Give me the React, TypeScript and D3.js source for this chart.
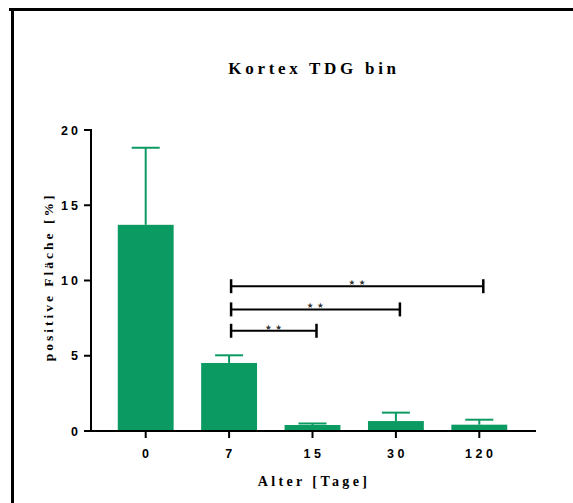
import React from "react";
import * as d3 from "d3";

const categories = ["0", "7", "15", "30", "120"];
const means = [13.7, 4.52, 0.4, 0.66, 0.42];
const sems = [5.12, 0.51, 0.1, 0.56, 0.33];
const yTicks = [0, 5, 10, 15, 20];
const comparisons = [
  { from: "7", to: "120", level: 9.62, label: "★★" },
  { from: "7", to: "30", level: 8.08, label: "★★" },
  { from: "7", to: "15", level: 6.66, label: "★★" },
];

const W = 573;
const H = 503;
const GREEN = "#0c9a63";
const SANS = "'Liberation Sans', Arial, sans-serif";
const SERIF = "'Liberation Serif', 'Times New Roman', serif";

export default function App() {
  const x = d3
    .scaleBand<string>()
    .domain(categories)
    .range([104, 521])
    .paddingInner(0.33)
    .paddingOuter(0.165);
  const y = d3.scaleLinear().domain([0, 20]).range([431, 130]);
  const axisX = 91;
  const axisRight = 536;
  const bw = x.bandwidth();
  const cx = (c: string) => (x(c) as number) + bw / 2;

  return (
    <svg
      width={W}
      height={H}
      style={{ position: "absolute", left: 0, top: 0, background: "#fff" }}
    >
      {/* frame */}
      <line x1={9} x2={W + 5} y1={9.5} y2={9.5} stroke="#000" strokeWidth={3} />
      <line x1={12.5} x2={12.5} y1={8} y2={H + 5} stroke="#000" strokeWidth={3} />

      {/* title */}
      <text
        x={314}
        y={73.5}
        textAnchor="middle"
        fontFamily={SERIF}
        fontWeight="bold"
        fontSize={17}
        letterSpacing={3.7}
      >
        Kortex TDG bin
      </text>

      {/* bars */}
      {categories.map((c, i) => (
        <rect
          key={c}
          x={x(c)}
          y={y(means[i])}
          width={bw}
          height={y(0) - y(means[i])}
          fill={GREEN}
        />
      ))}
      {/* error bars */}
      {categories.map((c, i) => (
        <g key={"e" + c} stroke={GREEN} strokeWidth={2}>
          <line x1={cx(c)} x2={cx(c)} y1={y(means[i])} y2={y(means[i] + sems[i])} />
          <line
            x1={cx(c) - 14}
            x2={cx(c) + 14}
            y1={y(means[i] + sems[i])}
            y2={y(means[i] + sems[i])}
          />
        </g>
      ))}

      {/* y axis */}
      <line x1={axisX} x2={axisX} y1={y(20) - 1} y2={y(0) + 1} stroke="#000" strokeWidth={2} />
      {yTicks.map((t) => (
        <g key={t}>
          <line x1={axisX - 7} x2={axisX} y1={y(t)} y2={y(t)} stroke="#000" strokeWidth={2} />
          <text
            x={axisX - 10}
            y={y(t) + 4.5}
            textAnchor="end"
            fontFamily={SANS}
            fontWeight="bold"
            fontSize={12.5}
            letterSpacing={3}
          >
            {t}
          </text>
        </g>
      ))}
      <text
        transform={`translate(53,277) rotate(-90)`}
        textAnchor="middle"
        fontFamily={SERIF}
        fontWeight="bold"
        fontSize={13.5}
        letterSpacing={3}
      >
        positive Fläche [%]
      </text>

      {/* x axis */}
      <line x1={axisX - 1} x2={axisRight} y1={y(0)} y2={y(0)} stroke="#000" strokeWidth={2} />
      {categories.map((c) => (
        <g key={"t" + c}>
          <line x1={cx(c)} x2={cx(c)} y1={y(0)} y2={y(0) + 7} stroke="#000" strokeWidth={2} />
          <text
            x={cx(c) + 1.5}
            y={458}
            textAnchor="middle"
            fontFamily={SANS}
            fontWeight="bold"
            fontSize={12.5}
            letterSpacing={3.5}
          >
            {c}
          </text>
        </g>
      ))}
      <text
        x={314}
        y={486}
        textAnchor="middle"
        fontFamily={SERIF}
        fontWeight="bold"
        fontSize={14}
        letterSpacing={3.4}
      >
        Alter [Tage]
      </text>

      {/* significance brackets */}
      {comparisons.map((cmp) => {
        const x1 = cx(cmp.from) + 2;
        const x2 = cx(cmp.to) + 4;
        const yy = y(cmp.level);
        return (
          <g key={cmp.from + cmp.to}>
            <line x1={x1} x2={x2} y1={yy} y2={yy} stroke="#000" strokeWidth={2} />
            <line x1={x1} x2={x1} y1={yy - 7} y2={yy + 7} stroke="#000" strokeWidth={2.5} />
            <line x1={x2} x2={x2} y1={yy - 7} y2={yy + 7} stroke="#000" strokeWidth={2.5} />
            <text
              x={(x1 + x2) / 2 + 1.5}
              y={yy - 1}
              textAnchor="middle"
              fontFamily="'DejaVu Sans', sans-serif"
              fontSize={7.5}
              fill="#333"
              letterSpacing={3.5}
            >
              {cmp.label}
            </text>
          </g>
        );
      })}
    </svg>
  );
}
